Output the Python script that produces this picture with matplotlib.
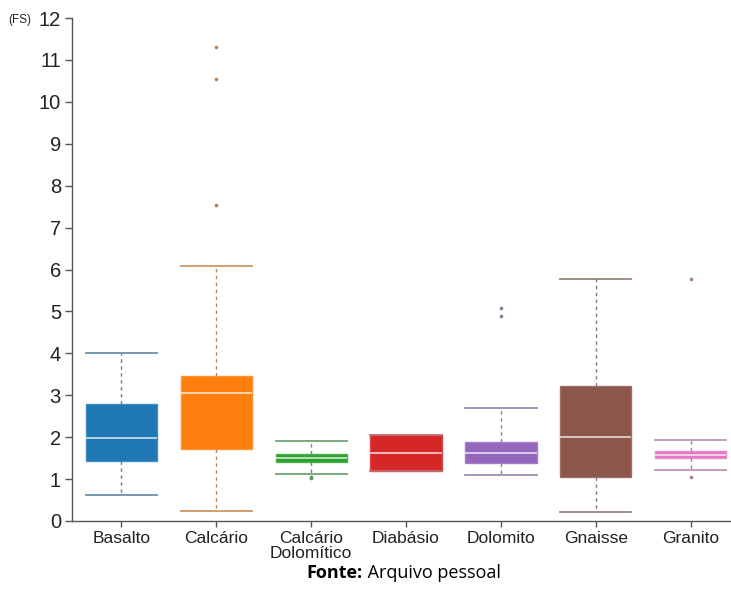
import matplotlib
matplotlib.use("Agg")
import matplotlib.pyplot as plt
from matplotlib.colors import to_rgb

# Fator de segurança (FS) por litologia
categories = ["Basalto", "Calcário", "Calcário\nDolomítico", "Diabásio",
              "Dolomito", "Gnaisse", "Granito"]
whislo = [0.61, 0.25, 1.11, 1.19, 1.10, 0.21, 1.22]
q1 = [1.44, 1.72, 1.41, 1.19, 1.39, 1.06, 1.50]
median = [1.97, 3.06, 1.51, 1.62, 1.62, 2.01, 1.57]
q3 = [2.79, 3.46, 1.61, 2.05, 1.89, 3.21, 1.66]
whishi = [4.00, 6.09, 1.90, 2.05, 2.69, 5.78, 1.94]
outliers = [[], [7.53, 10.54, 11.31], [1.02, 1.05], [], [4.90, 5.09], [], [1.06, 5.78]]
yticks = list(range(0, 13))

colors = ["#1f77b4", "#ff7f0e", "#2ca02c", "#d62728", "#9467bd", "#8c564b", "#e377c2"]


def blend(c, other, t):
    a = to_rgb(c)
    b = to_rgb(other)
    return tuple(a[i] * (1 - t) + b[i] * t for i in range(3))


plt.rcParams["font.family"] = ["Liberation Sans", "DejaVu Sans"]

fig = plt.figure(figsize=(7.31, 5.99), dpi=100)
ax = fig.add_axes([72 / 731, 78 / 599, 659 / 731, 503 / 599])

stats = []
for i, name in enumerate(categories):
    stats.append(dict(label=name, med=median[i], q1=q1[i], q3=q3[i],
                      whislo=whislo[i], whishi=whishi[i], fliers=outliers[i]))

positions = list(range(len(categories)))
for i, st in enumerate(stats):
    c = colors[i]
    ax.bxp([st], positions=[positions[i]], widths=0.75, patch_artist=True,
           showfliers=True,
           boxprops=dict(facecolor=c, edgecolor=blend(c, "white", 0.15), linewidth=1.0),
           medianprops=dict(color=blend(c, "white", 0.72), linewidth=1.3),
           whiskerprops=dict(color=blend(c, "#8a8a8a", 0.65), linewidth=1.0,
                             linestyle=(0, (2.5, 2.5))),
           capprops=dict(color=blend(c, "#a8a8a8", 0.55), linewidth=1.3),
           capwidths=0.75,
           flierprops=dict(marker="o", markersize=2.6, markerfacecolor=blend(c, "#808080", 0.6),
                           markeredgecolor="none"))

ax.set_xlim(-0.52, -0.52 + 659 / 94.9)
ax.set_ylim(0, 12)
ax.set_yticks(yticks)
ax.set_yticklabels([str(v) for v in yticks])
ax.set_xticks(positions)
ax.set_xticklabels(categories, linespacing=1.05)

for side in ["top", "right"]:
    ax.spines[side].set_visible(False)
for side in ["left", "bottom"]:
    ax.spines[side].set_color("#555555")
    ax.spines[side].set_linewidth(1.0)

ax.tick_params(axis="y", length=5, width=1, color="#555555", labelsize=14.5,
               labelcolor="#222222", pad=3)
ax.tick_params(axis="x", length=4, width=1, color="#555555", labelsize=12.5,
               labelcolor="#222222", pad=3)

fig.text(8 / 731, 1 - 20 / 599, "(FS)", fontsize=8.5, color="#222222",
         ha="left", va="center")

# Source line: bold label followed by regular text, centred as a pair
fy = 1 - 573 / 599
t1 = fig.text(0, fy, "Fonte:", fontsize=13, fontweight="bold", family="Open Sans",
              ha="left", va="center", color="black")
t2 = fig.text(0, fy, " Arquivo pessoal", fontsize=13, family="Open Sans",
              ha="left", va="center", color="black")
fig.canvas.draw()
r = fig.canvas.get_renderer()
w1 = t1.get_window_extent(r).width
w2 = t2.get_window_extent(r).width
cx = 403.5
x0 = cx - (w1 + w2) / 2
t1.set_x(x0 / 731)
t2.set_x((x0 + w1) / 731)

fig.savefig("out.png", dpi=100)
